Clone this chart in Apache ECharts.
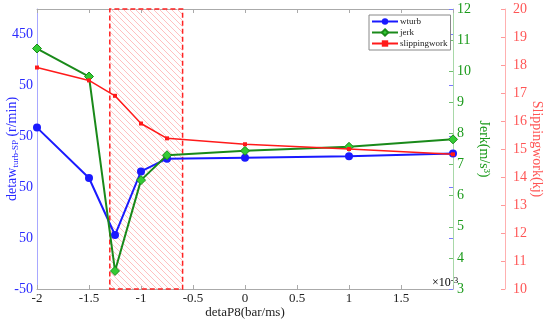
<!DOCTYPE html>
<html>
<head>
<meta charset="utf-8">
<script src="https://cdn.jsdelivr.net/npm/echarts@6/dist/echarts.min.js"></script>
<style>html,body{margin:0;padding:0;background:#fff;}#c{width:550px;height:324px;}</style>
</head>
<body>
<div id="c"></div>
<script>
var xValues = [-2, -1.5, -1.25, -1, -0.75, 0, 1, 2];
var wturb = [267, 168, 56, 181, 206, 208, 211, 216];
var jerk = [10.73, 9.83, 3.58, 6.5, 7.3, 7.44, 7.57, 7.81];
var slippingwork = [17.91, 17.45, 16.9, 15.91, 15.38, 15.17, 15.0, 14.81];
var highlightRange = [-1.3, -0.6];
var leftTickValues = [-50, 50, 150, 250, 350, 450];
var leftTickLabels = ['-50', '50', '50', '50', '50', '450'];
var xTickLabels = {'-2': '-2', '-1.5': '-1.5', '-1': '-1', '-0.5': '-0.5', '0': '0', '0.5': '0.5', '1': '1', '1.5': '1.5', '2': ''};

function pairs(xs, ys) { return xs.map(function (x, i) { return [x, ys[i]]; }); }

// hatch pattern
var pc = document.createElement('canvas');
pc.width = 6; pc.height = 6;
var pctx = pc.getContext('2d');
pctx.strokeStyle = '#ffc0c0';
pctx.lineWidth = 1;
pctx.beginPath();
pctx.moveTo(-1, -1); pctx.lineTo(7, 7);
pctx.moveTo(-7, -1); pctx.lineTo(1, 7);
pctx.moveTo(5, -1); pctx.lineTo(13, 7);
pctx.stroke();

var serif = '"Liberation Serif", "DejaVu Serif", serif';
var chart = echarts.init(document.getElementById('c'), null, {renderer: 'canvas'});
chart.setOption({
  animation: false,
  backgroundColor: '#fff',
  textStyle: {fontFamily: serif},
  grid: {left: 37, right: 97, top: 9, bottom: 35, containLabel: false, outerBoundsMode: 'none'},
  legend: {
    orient: 'vertical', left: 369, top: 15,
    itemWidth: 26, itemHeight: 8, itemGap: 2,
    padding: [2, 3, 2, 2],
    borderColor: '#888', borderWidth: 1, backgroundColor: '#fff',
    textStyle: {fontFamily: serif, fontSize: 9, color: '#222', padding: [0, 0, 0, -3]},
    data: ['wturb', 'jerk', 'slippingwork']
  },
  xAxis: [{
    type: 'value', min: -2, max: 2, interval: 0.5,
    name: 'detaP8(bar/ms)', nameLocation: 'middle', nameGap: 17, nameMoveOverlap: false,
    nameTextStyle: {fontFamily: serif, fontSize: 13, color: '#222'},
    axisLine: {onZero: false, lineStyle: {color: '#aaa'}},
    axisTick: {inside: true, length: 4, lineStyle: {color: '#aaa'}},
    axisLabel: {fontFamily: serif, fontSize: 13, color: '#222', margin: 3,
      formatter: function (v) { var k = String(Math.round(v * 100) / 100); return k in xTickLabels ? xTickLabels[k] : k; }},
    splitLine: {show: false}
  }, {
    type: 'value', min: -2, max: 2, interval: 0.5, position: 'top',
    axisLine: {onZero: false, lineStyle: {color: '#aaa'}},
    axisTick: {inside: true, length: 4, lineStyle: {color: '#aaa'}},
    axisLabel: {show: false}, splitLine: {show: false}
  }],
  yAxis: [{
    type: 'value', min: -50, max: 500, interval: 100, position: 'left',
    name: '{a|detaw}{b|turb-SP}{a| (r/min)}', nameLocation: 'middle', nameGap: 17, nameRotate: 90, nameMoveOverlap: false,
    nameTextStyle: {rich: {
      a: {fontFamily: serif, fontSize: 14, color: '#2a2aff'},
      b: {fontFamily: serif, fontSize: 9, color: '#2a2aff', padding: [6, 0, 0, 0]}
    }},
    axisLine: {show: true, onZero: false, lineStyle: {color: '#a8a8ff'}},
    axisTick: {show: false},
    axisLabel: {fontFamily: serif, fontSize: 14, color: '#2a2aff', margin: 4,
      formatter: function (v) { var i = leftTickValues.indexOf(Math.round(v)); return i >= 0 ? leftTickLabels[i] : ''; }},
    splitLine: {show: false}
  }, {
    type: 'value', min: 3, max: 12, interval: 1, position: 'right', offset: 0,
    name: 'Jerk(m/s³)', nameLocation: 'middle', nameGap: 24, nameRotate: -90, nameMoveOverlap: false,
    nameTextStyle: {fontFamily: serif, fontSize: 14, color: '#1a9a1a'},
    axisLine: {show: true, onZero: false, lineStyle: {color: '#a8d8a8'}},
    axisTick: {show: true, inside: true, length: 4, lineStyle: {color: '#6fbf6f'}},
    axisLabel: {fontFamily: serif, fontSize: 14, color: '#1a9a1a', margin: 4},
    splitLine: {show: false}
  }, {
    type: 'value', min: 10, max: 20, interval: 1, position: 'right', offset: 52,
    name: 'Slippingwork(kj)', nameLocation: 'middle', nameGap: 25, nameRotate: -90, nameMoveOverlap: false,
    nameTextStyle: {fontFamily: serif, fontSize: 14, color: '#ff5555'},
    axisLine: {show: true, onZero: false, lineStyle: {color: '#ffb0b0'}},
    axisTick: {show: true, inside: true, length: 4, lineStyle: {color: '#ff9999'}},
    axisLabel: {fontFamily: serif, fontSize: 14, color: '#ff5555', margin: 8},
    splitLine: {show: false}
  }, {
    type: 'value', min: -50, max: 500, interval: 100, position: 'right', offset: 0,
    axisLine: {show: false, onZero: false},
    axisTick: {show: true, inside: true, length: 4, lineStyle: {color: '#7a7aff'}},
    axisLabel: {show: false}, splitLine: {show: false}
  }],
  series: [{
    name: 'wturb', type: 'line', xAxisIndex: 0, yAxisIndex: 0,
    data: pairs(xValues, wturb),
    symbol: 'circle', symbolSize: 8,
    lineStyle: {color: '#1a1aff', width: 2},
    itemStyle: {color: '#1a1aff'},
    markArea: {
      silent: true,
      itemStyle: {color: {image: pc, repeat: 'repeat'}, borderColor: '#ff2222', borderWidth: 1.5, borderType: [5, 3]},
      data: [[{xAxis: highlightRange[0]}, {xAxis: highlightRange[1]}]]
    },
    z: 3
  }, {
    name: 'jerk', type: 'line', xAxisIndex: 0, yAxisIndex: 1,
    data: pairs(xValues, jerk),
    symbol: 'diamond', symbolSize: 9,
    lineStyle: {color: '#1a8a1a', width: 2},
    itemStyle: {color: '#33cc33', borderColor: '#1a8a1a', borderWidth: 1},
    z: 4
  }, {
    name: 'slippingwork', type: 'line', xAxisIndex: 0, yAxisIndex: 2,
    data: pairs(xValues, slippingwork),
    symbol: 'rect', symbolSize: 4,
    lineStyle: {color: '#ff1a1a', width: 1.5},
    itemStyle: {color: '#ff1a1a'},
    z: 5
  }],
  graphic: [{
    type: 'text', left: 432, top: 276,
    style: {
      text: '{a|×10}{b|-3}',
      rich: {
        a: {fontFamily: serif, fontSize: 12, color: '#333', padding: [5, 0, 0, 0]},
        b: {fontFamily: serif, fontSize: 9, color: '#333'}
      }
    }
  }]
});
</script>
</body>
</html>
